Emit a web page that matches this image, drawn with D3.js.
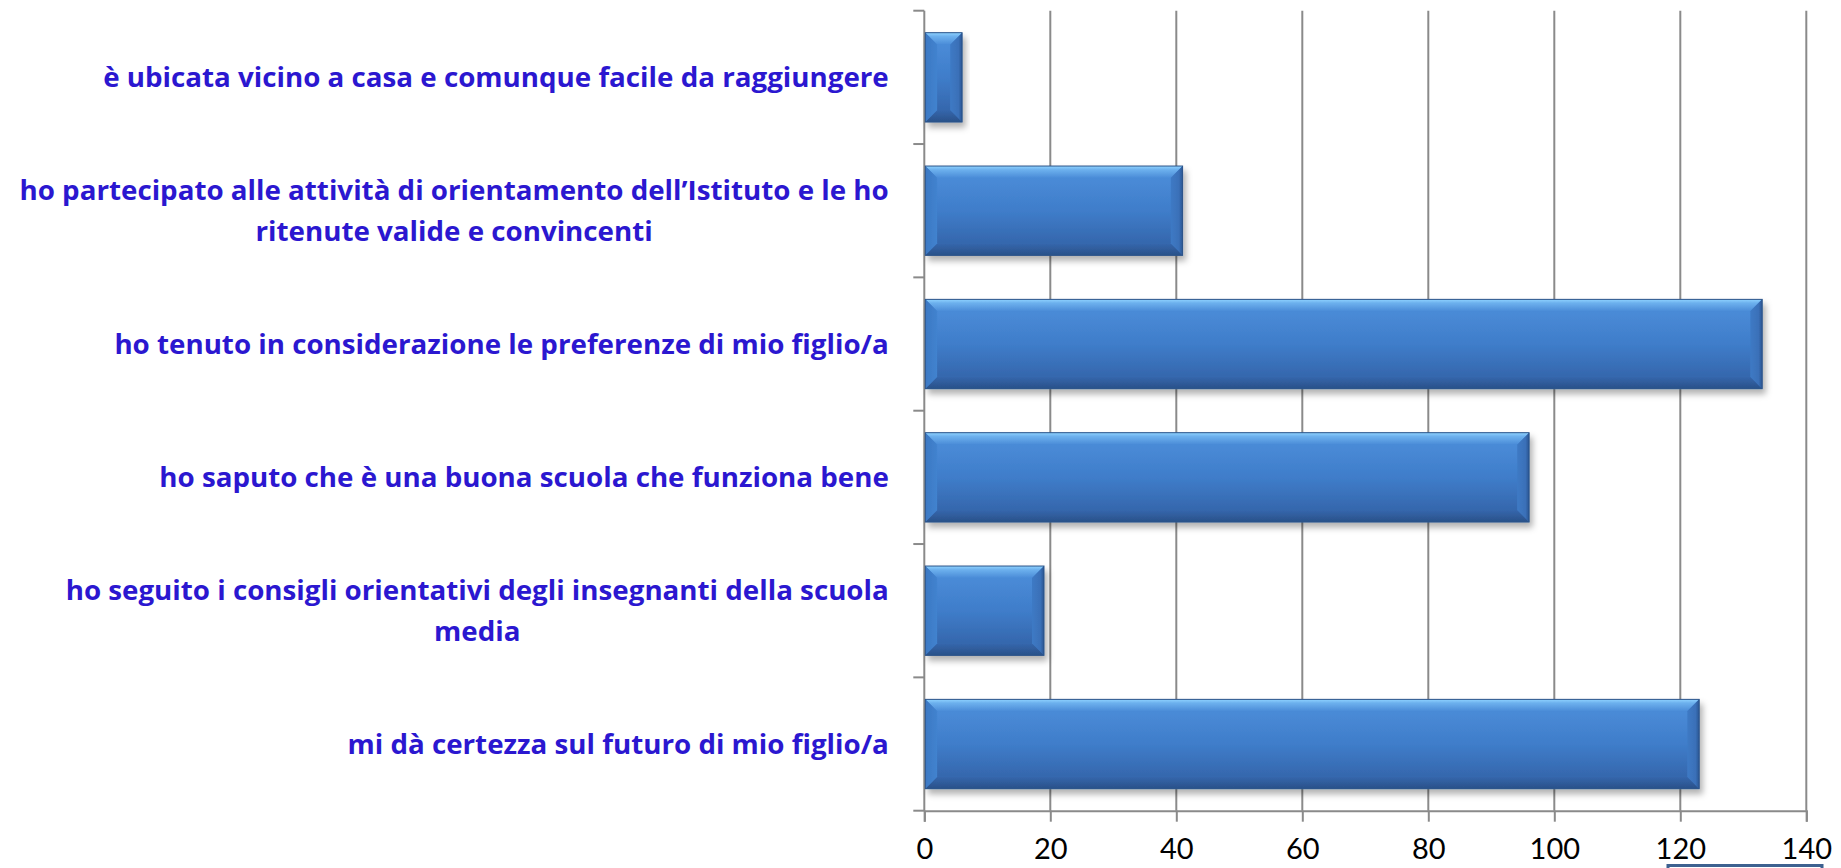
<!DOCTYPE html>
<html>
<head>
<meta charset="utf-8">
<script src="https://cdn.jsdelivr.net/npm/d3@7"></script>
<style>
  html, body { margin: 0; padding: 0; background: #ffffff; }
  svg { display: block; }
</style>
</head>
<body>
<svg id="chart" width="1841" height="868"></svg>
<script>
// Reasons for choosing the school (number of answers), top to bottom
const categories = [
  ["è ubicata vicino a casa e comunque facile da raggiungere"],
  ["ho partecipato alle attività di orientamento dell’Istituto e le ho", "ritenute valide e convincenti"],
  ["ho tenuto in considerazione le preferenze di mio figlio/a"],
  ["ho saputo che è una buona scuola che funziona bene"],
  ["ho seguito i consigli orientativi degli insegnanti della scuola", "media"],
  ["mi dà certezza sul futuro di mio figlio/a"]
];
const values = [6, 41, 133, 96, 19, 123];
const xTicks = [0, 20, 40, 60, 80, 100, 120, 140];

const plot = { left: 924.3, right: 1806.3, top: 10.7, bottom: 810.7 };
const labelRight = 889;
const labelLeft = 103;
const labelColor = "#2b17d0";
const gridColor = "#8a8a8a";

const svg = d3.select("#chart");
const defs = svg.append("defs");

// soft shadow under each bar
const shadow = defs.append("filter").attr("id", "barShadow")
  .attr("x", "-10%").attr("y", "-20%").attr("width", "130%").attr("height", "160%");
shadow.append("feDropShadow").attr("dx", 3).attr("dy", 5)
  .attr("stdDeviation", 3).attr("flood-color", "#000").attr("flood-opacity", 0.3);

function grad(id, horizontal, stops) {
  const g = defs.append("linearGradient").attr("id", id)
    .attr("x1", 0).attr("y1", 0).attr("x2", horizontal ? 1 : 0).attr("y2", horizontal ? 0 : 1);
  stops.forEach(([o, c]) => g.append("stop").attr("offset", o).attr("stop-color", c));
}
grad("faceGrad", false, [[0, "#4a8bd7"], [0.5, "#3f7dca"], [1, "#3567ad"]]);
grad("topGrad", false, [[0, "#8fd3ff"], [0.3, "#6db1ee"], [1, "#4a8bd7"]]);
grad("bottomGrad", false, [[0, "#3567ad"], [1, "#2a5189"]]);
grad("leftGrad", true, [[0, "#3b78c3"], [1, "#4283cf"]]);
grad("rightGrad", true, [[0, "#3e7ac5"], [0.7, "#3a70b8"], [1, "#2b5692"]]);

const x = d3.scaleLinear().domain([0, 140]).range([plot.left, plot.right]);
const y = d3.scaleBand().domain(d3.range(categories.length))
  .range([plot.top, plot.bottom]).paddingInner(0.33).paddingOuter(0.165);

// vertical gridlines
svg.append("g").selectAll("line").data(xTicks.slice(1)).join("line")
  .attr("x1", d => x(d)).attr("x2", d => x(d))
  .attr("y1", plot.top).attr("y2", plot.bottom)
  .attr("stroke", gridColor).attr("stroke-width", 2);

// bottom value axis
const xAxis = svg.append("g").attr("transform", `translate(0,${plot.bottom})`)
  .call(d3.axisBottom(x).tickValues(xTicks).tickSize(11).tickPadding(17).tickFormat(d3.format("d")));
xAxis.select(".domain").attr("stroke", gridColor).attr("stroke-width", 2);
xAxis.selectAll(".tick line").attr("stroke", gridColor).attr("stroke-width", 2);
xAxis.selectAll(".tick text")
  .attr("fill", "#000").attr("font-family", "Lato, 'Open Sans', sans-serif")
  .attr("font-size", 29);

// left category axis: line plus ticks at band boundaries
const step = y.step();
const boundaries = d3.range(categories.length + 1).map(i => plot.top + i * step);
svg.append("line")
  .attr("x1", plot.left).attr("x2", plot.left)
  .attr("y1", plot.top).attr("y2", plot.bottom)
  .attr("stroke", gridColor).attr("stroke-width", 2);
svg.append("g").selectAll("line").data(boundaries).join("line")
  .attr("x1", plot.left - 11).attr("x2", plot.left)
  .attr("y1", d => d).attr("y2", d => d)
  .attr("stroke", gridColor).attr("stroke-width", 2);

// bevelled bars
const bev = 12;
const bars = svg.append("g").selectAll("g").data(values).join("g")
  .attr("filter", "url(#barShadow)");
bars.each(function (v, i) {
  const g = d3.select(this);
  const x0 = x(0) + 1, x1 = x(v), y0 = y(i), y1 = y(i) + y.bandwidth();
  const b = Math.min(bev, (x1 - x0) / 2);
  g.append("rect").attr("x", x0).attr("y", y0)
    .attr("width", x1 - x0).attr("height", y1 - y0).attr("fill", "url(#faceGrad)");
  const poly = (pts, fill) => g.append("polygon")
    .attr("points", pts.map(p => p.join(",")).join(" ")).attr("fill", fill);
  poly([[x0, y0], [x1, y0], [x1 - b, y0 + b], [x0 + b, y0 + b]], "url(#topGrad)");
  poly([[x0, y1], [x1, y1], [x1 - b, y1 - b], [x0 + b, y1 - b]], "url(#bottomGrad)");
  poly([[x0, y0], [x0 + b, y0 + b], [x0 + b, y1 - b], [x0, y1]], "url(#leftGrad)");
  poly([[x1, y0], [x1 - b, y0 + b], [x1 - b, y1 - b], [x1, y1]], "url(#rightGrad)");
  g.append("rect").attr("x", x0 + b).attr("y", y0 + b)
    .attr("width", Math.max(0, x1 - x0 - 2 * b)).attr("height", y1 - y0 - 2 * b)
    .attr("fill", "url(#faceGrad)");
  g.append("rect").attr("x", x0).attr("y", y0)
    .attr("width", x1 - x0).attr("height", y1 - y0)
    .attr("fill", "none").attr("stroke", "#2c5489").attr("stroke-width", 1);
});

// category labels, each block right-aligned with its lines centred
const fontSize = 27, lineGap = 41;
const labels = svg.append("g")
  .attr("font-family", "'Open Sans', Lato, sans-serif")
  .attr("font-weight", "bold").attr("font-size", fontSize).attr("fill", labelColor);

const blocks = labels.selectAll("g").data(categories).join("g");
blocks.each(function (lines, i) {
  const g = d3.select(this);
  const cy = y(i) + y.bandwidth() / 2;
  const texts = g.selectAll("text").data(lines).join("text")
    .attr("text-anchor", "middle")
    .attr("y", (d, k) => (k - (lines.length - 1) / 2) * lineGap + fontSize * 0.36)
    .text(d => d);
  const maxW = d3.max(texts.nodes(), n => n.getComputedTextLength());
  texts.attr("x", -maxW / 2);
  g.attr("data-cy", cy).attr("data-w", maxW);
});
// horizontal scale so the longest single-line label spans labelLeft..labelRight
const refW = +blocks.filter((d, i) => i === 0).attr("data-w");
const sx = (labelRight - labelLeft) / refW;
blocks.attr("transform", function () {
  return `translate(${labelRight},${+this.getAttribute("data-cy")}) scale(${sx},1)`;
});

// frame edge peeking in at the lower right
svg.append("rect").attr("x", 1668).attr("y", 865.5).attr("width", 154).attr("height", 20)
  .attr("fill", "#ffffff").attr("stroke", "#3d6190").attr("stroke-width", 3);
</script>
</body>
</html>
